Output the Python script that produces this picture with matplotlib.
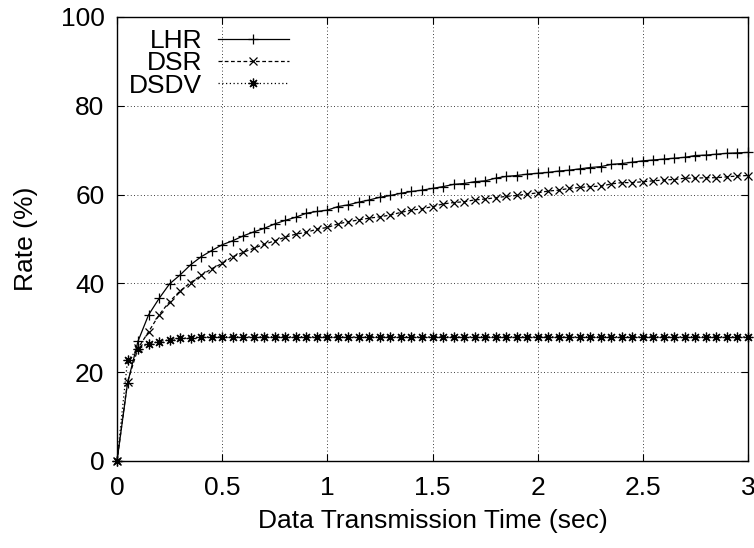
import numpy as np
import matplotlib
matplotlib.use("Agg")
import matplotlib.pyplot as plt

time_sec = [round(0.05 * i, 2) for i in range(61)]

lhr = [0.0, 17.5, 27.0, 32.9, 36.6, 39.9, 41.9, 44.2, 46.0, 47.4,
       48.7, 49.6, 50.7, 51.6, 52.4, 53.4, 54.2, 54.9, 55.8, 56.2,
       56.5, 57.3, 57.7, 58.3, 58.8, 59.4, 59.8, 60.3, 60.7, 61.0,
       61.4, 61.8, 62.3, 62.5, 62.9, 63.1, 63.7, 64.1, 64.3, 64.6,
       64.8, 65.0, 65.3, 65.5, 65.8, 66.1, 66.3, 66.8, 67.0, 67.3,
       67.6, 67.8, 68.0, 68.2, 68.4, 68.8, 68.9, 69.1, 69.3, 69.4,
       69.5]

dsr = [0.0, 17.8, 25.4, 29.1, 32.9, 35.9, 38.3, 40.2, 41.8, 43.3,
       44.5, 46.0, 47.0, 47.9, 48.8, 49.6, 50.4, 51.1, 51.5, 52.2,
       52.6, 53.4, 53.9, 54.3, 54.7, 55.0, 55.4, 56.0, 56.5, 56.8,
       57.3, 57.9, 58.2, 58.4, 58.8, 59.0, 59.3, 59.6, 59.8, 60.1,
       60.4, 60.8, 61.0, 61.4, 61.6, 61.8, 61.9, 62.4, 62.7, 62.7,
       62.9, 63.1, 63.3, 63.4, 63.7, 63.7, 63.8, 63.8, 64.0, 64.2,
       64.3]

dsdv = [0.0, 22.7, 25.2, 26.4, 26.9, 27.3, 27.6, 27.8, 27.9, 28.0,
        28.0, 28.0, 28.0, 28.0, 28.0, 28.0, 28.0, 28.0, 28.0, 28.0,
        28.0, 28.0, 28.0, 28.0, 28.0, 28.0, 28.0, 28.0, 28.0, 28.0,
        28.0, 28.0, 28.0, 28.0, 28.0, 28.0, 28.0, 28.0, 28.0, 28.0,
        28.0, 28.0, 28.0, 28.0, 28.0, 28.0, 28.0, 28.0, 28.0, 28.0,
        28.0, 28.0, 28.0, 28.0, 28.0, 28.0, 28.0, 28.0, 28.0, 28.0,
        28.0]

series_names = ["LHR", "DSR", "DSDV"]
x_ticks = [0, 0.5, 1, 1.5, 2, 2.5, 3]
x_ticklabels = ["0", "0.5", "1", "1.5", "2", "2.5", "3"]
y_ticks = [0, 20, 40, 60, 80, 100]
y_ticklabels = ["0", "20", "40", "60", "80", "100"]

plt.rcParams['font.family'] = ['Liberation Sans', 'DejaVu Sans']
FS = 19

fig = plt.figure(figsize=(7.54, 5.48), dpi=100)
ax = fig.add_axes([117/754, 1 - 461/548, (748 - 117)/754, (461 - 17)/548])

ax.plot(time_sec, lhr, color='black', lw=0.9, linestyle='-',
        marker='+', markersize=7, markeredgewidth=0.9, label=series_names[0],
        clip_on=False, zorder=3)
ax.plot(time_sec, dsr, color='black', lw=0.9, linestyle=(0, (3, 2)),
        marker='x', markersize=6, markeredgewidth=0.9, label=series_names[1],
        clip_on=False, zorder=3)
ax.plot(time_sec, dsdv, color='black', lw=0.9, linestyle=(0, (1, 2)),
        marker=(8, 2, 0), markersize=7, markeredgewidth=0.9, label=series_names[2],
        clip_on=False, zorder=3)

ax.set_xlim(0, 3)
ax.set_ylim(0, 100)
ax.set_xticks(x_ticks)
ax.set_xticklabels(x_ticklabels)
ax.set_yticks(y_ticks)
ax.set_yticklabels(y_ticklabels)
ax.tick_params(direction='in', length=5, width=0.8, top=True, right=True,
               labelsize=FS, pad=9)
ax.tick_params(axis='x', pad=11)
ax.grid(True, color='black', linestyle=(0, (1, 3)), lw=0.6)
for s in ax.spines.values():
    s.set_linewidth(1.0)

ax.set_xlabel("Data Transmission Time (sec)", fontsize=FS, labelpad=6)
ax.set_ylabel("Rate (%)", fontsize=FS, labelpad=16)

leg = ax.legend(loc='upper left', bbox_to_anchor=(0.0, 1.0), markerfirst=False,
                frameon=False, fontsize=FS, handlelength=2.7, handletextpad=0.6,
                labelspacing=-0.06, borderaxespad=0.25, borderpad=0.2)

fig.savefig("out.png", dpi=100)
